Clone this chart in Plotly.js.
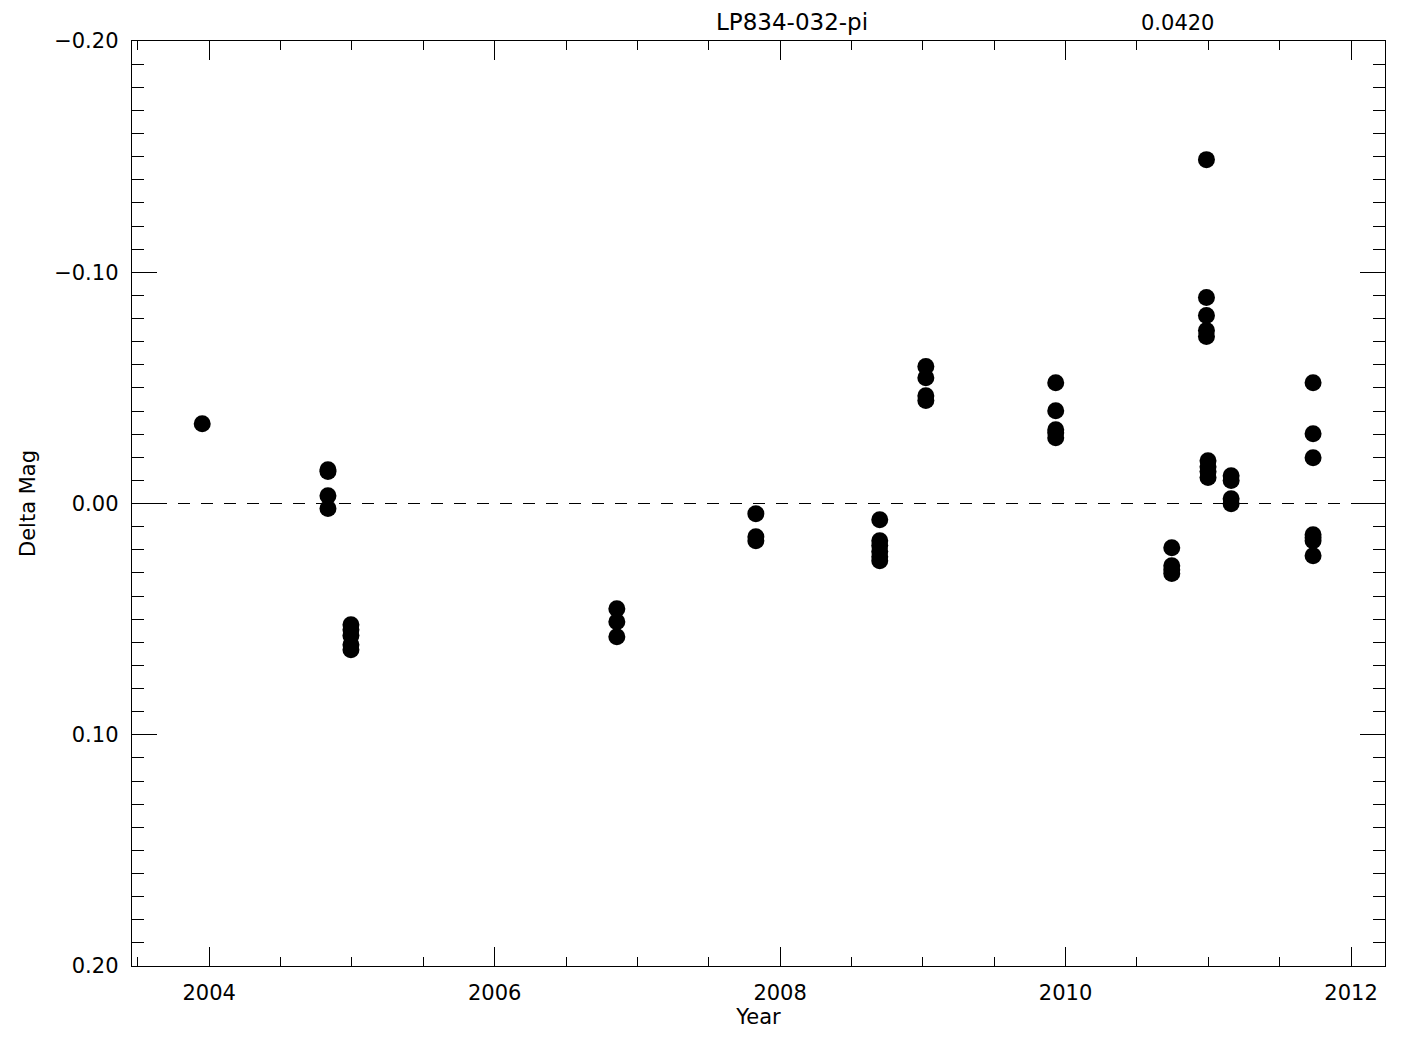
<!DOCTYPE html>
<html>
<head>
<meta charset="utf-8">
<script src="https://cdn.plot.ly/plotly-3.0.1.min.js"></script>
<style>html,body{margin:0;padding:0;background:#fff;}#chart{width:1425px;height:1050px;}</style>
</head>
<body>
<div id="chart"></div>
<script>
// Observation epochs (decimal year) and delta magnitudes
const years = [
  2003.951,
  2004.832, 2004.832, 2004.832, 2004.832,
  2004.993, 2004.993, 2004.993, 2004.993, 2004.993,
  2006.856, 2006.856, 2006.856,
  2007.830, 2007.830, 2007.830,
  2008.698, 2008.698, 2008.698, 2008.698, 2008.698, 2008.698,
  2009.021, 2009.021, 2009.021, 2009.021,
  2009.931, 2009.931, 2009.931, 2009.931, 2009.931,
  2010.744, 2010.744, 2010.744, 2010.744,
  2010.987, 2010.987, 2010.987, 2010.987, 2010.987,
  2010.998, 2010.998, 2010.998, 2010.998,
  2011.160, 2011.160, 2011.160, 2011.160,
  2011.734, 2011.734, 2011.734, 2011.734, 2011.734, 2011.734, 2011.734
];
const deltaMag = [
  -0.0345,
  -0.0146, -0.0138, -0.0034, 0.0022,
  0.0524, 0.0546, 0.0571, 0.0611, 0.0632,
  0.0455, 0.0511, 0.0576,
  0.0044, 0.0144, 0.0161,
  0.0070, 0.0161, 0.0182, 0.0208, 0.0230, 0.0248,
  -0.0592, -0.0544, -0.0466, -0.0445,
  -0.0522, -0.0401, -0.0319, -0.0306, -0.0284,
  0.0191, 0.0269, 0.0286, 0.0303,
  -0.1487, -0.0891, -0.0813, -0.0748, -0.0722,
  -0.0185, -0.0159, -0.0138, -0.0112,
  -0.0120, -0.0099, -0.0021, 0.0001,
  -0.0522, -0.0302, -0.0198, 0.0135, 0.0148, 0.0161, 0.0226
];
const starName = "LP834-032-pi";
const rmsLabel = "0.0420";
const xTitle = "Year";
const yTitle = "Delta Mag";
const xRange = [2003.459, 2012.238];
const yRange = [0.2, -0.2];
const refLevel = 0.0;

const fam = "DejaVu Sans, sans-serif";

const trace = {
  x: years, y: deltaMag, type: "scatter", mode: "markers",
  marker: {color: "#000", size: 17, line: {width: 0}},
  hoverinfo: "x+y", showlegend: false
};

const layout = {
  width: 1425, height: 1050,
  margin: {l: 132, r: 40, t: 41, b: 84},
  paper_bgcolor: "#fff", plot_bgcolor: "#fff",
  font: {family: fam, size: 20, color: "#000"},
  showlegend: false,
  xaxis: {
    range: xRange, tick0: 2004, dtick: 2, tickformat: "d",
    ticks: "inside", ticklen: 19, tickwidth: 1, tickcolor: "#000",
    minor: {dtick: 0.5, tick0: 2004, ticks: "inside", ticklen: 9, tickwidth: 1, tickcolor: "#000", showgrid: false},
    showline: true, linecolor: "#000", linewidth: 1.3, mirror: "allticks",
    showgrid: false, zeroline: false,
    tickfont: {family: fam, size: 21, color: "#000"},
    ticklabelstandoff: 7,
    title: {text: xTitle, font: {family: fam, size: 21, color: "#000"}, standoff: 5}
  },
  yaxis: {
    range: yRange, tick0: 0, dtick: 0.1, tickformat: ".2f",
    ticks: "inside", ticklen: 25, tickwidth: 1, tickcolor: "#000",
    minor: {dtick: 0.01, tick0: 0, ticks: "inside", ticklen: 12, tickwidth: 1, tickcolor: "#000", showgrid: false},
    showline: true, linecolor: "#000", linewidth: 1.3, mirror: "allticks",
    showgrid: false, zeroline: false,
    tickfont: {family: fam, size: 21, color: "#000"},
    ticklabelstandoff: 8,
    title: {text: yTitle, font: {family: fam, size: 21, color: "#000"}, standoff: 12}
  },
  shapes: [{
    type: "line", xref: "paper", yref: "y", x0: 0, x1: 1, y0: refLevel, y1: refLevel,
    line: {color: "#000", width: 1.2, dash: "12px,11px"}, layer: "below"
  }],
  annotations: [
    {text: starName, xref: "paper", yref: "paper", x: 0.527, y: 1, xanchor: "center", yanchor: "bottom", yshift: 4, showarrow: false, font: {family: fam, size: 23, color: "#000"}},
    {text: rmsLabel, xref: "paper", yref: "paper", x: 0.834, y: 1, xanchor: "center", yanchor: "bottom", yshift: 4, showarrow: false, font: {family: fam, size: 21, color: "#000"}}
  ]
};

Plotly.newPlot("chart", [trace], layout, {displayModeBar: false, staticPlot: true});
</script>
</body>
</html>
